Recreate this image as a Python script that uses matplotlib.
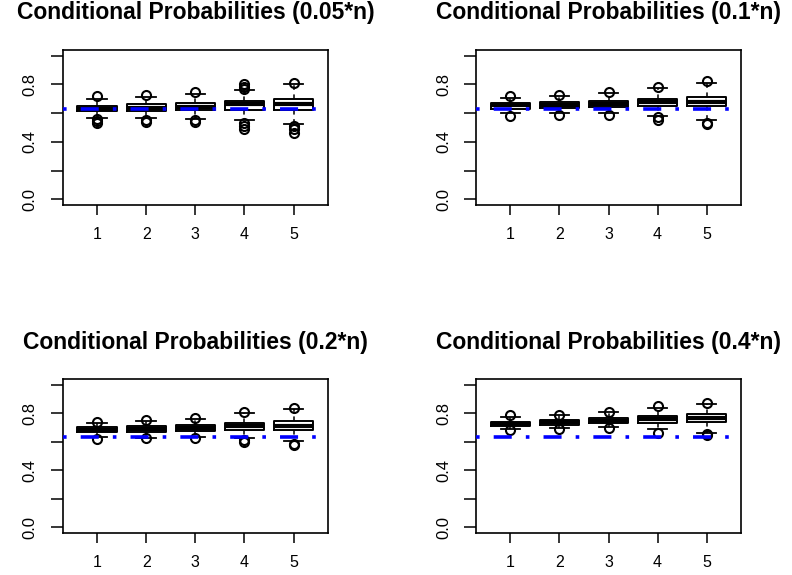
import matplotlib
matplotlib.use("Agg")
import matplotlib.pyplot as plt

plt.rcParams['font.family'] = ['Liberation Sans', 'DejaVu Sans']

# panel titles
titles = ["Conditional Probabilities (0.05*n)", "Conditional Probabilities (0.1*n)",
          "Conditional Probabilities (0.2*n)", "Conditional Probabilities (0.4*n)"]
groups = [1, 2, 3, 4, 5]

# box statistics, one row per panel
q1 = [[0.613, 0.613, 0.620, 0.623, 0.625],
      [0.632, 0.638, 0.644, 0.648, 0.648],
      [0.667, 0.670, 0.676, 0.683, 0.683],
      [0.713, 0.720, 0.730, 0.734, 0.737]]
med = [[0.632, 0.638, 0.645, 0.662, 0.665],
       [0.655, 0.660, 0.665, 0.680, 0.679],
       [0.682, 0.690, 0.698, 0.708, 0.713],
       [0.725, 0.735, 0.748, 0.757, 0.767]]
q3 = [[0.653, 0.665, 0.672, 0.683, 0.697],
      [0.672, 0.680, 0.688, 0.700, 0.714],
      [0.700, 0.707, 0.716, 0.732, 0.744],
      [0.741, 0.753, 0.767, 0.781, 0.795]]
whislo = [[0.567, 0.563, 0.556, 0.550, 0.527],
          [0.598, 0.602, 0.603, 0.583, 0.555],
          [0.632, 0.628, 0.632, 0.625, 0.607],
          [0.690, 0.697, 0.700, 0.692, 0.664]]
whishi = [[0.702, 0.712, 0.730, 0.762, 0.800],
          [0.707, 0.716, 0.737, 0.775, 0.812],
          [0.730, 0.748, 0.762, 0.800, 0.830],
          [0.777, 0.785, 0.808, 0.835, 0.862]]
fliers = [[[0.718, 0.558, 0.545, 0.532], [0.725, 0.555, 0.537], [0.745, 0.550, 0.540],
           [0.805, 0.780, 0.770, 0.530, 0.510, 0.490], [0.807, 0.508, 0.490, 0.463]],
          [[0.720, 0.582], [0.728, 0.588], [0.745, 0.585], [0.782, 0.575, 0.553],
           [0.822, 0.532, 0.525]],
          [[0.737, 0.622], [0.755, 0.625], [0.770, 0.625], [0.806, 0.610, 0.595],
           [0.836, 0.585, 0.575]],
          [[0.785, 0.680], [0.790, 0.690], [0.812, 0.697], [0.848, 0.664],
           [0.875, 0.655, 0.650]]]
ref_level = 0.632

fig = plt.figure(figsize=(7.92, 5.75), dpi=100)

# frame positions in pixels: left, right, top, bottom
W, H = 792.0, 575.0
frames = [(62.7, 328.0, 50.0, 205.0), (476.0, 741.0, 50.0, 205.0),
          (62.7, 328.0, 379.0, 533.0), (476.0, 741.0, 379.0, 533.0)]
title_y = [13, 13, 342, 342]

for k in range(4):
    l, r, t, b = frames[k]
    ax = fig.add_axes([l / W, 1 - b / H, (r - l) / W, (b - t) / H])

    stats = []
    for i in range(5):
        stats.append(dict(q1=q1[k][i], med=med[k][i], q3=q3[k][i],
                          whislo=whislo[k][i], whishi=whishi[k][i],
                          fliers=fliers[k][i]))
    ax.bxp(stats, positions=groups, widths=0.8, showfliers=True,
           boxprops=dict(color='black', linewidth=1.4),
           medianprops=dict(color='black', linewidth=3.0, solid_capstyle='butt'),
           whiskerprops=dict(color='black', linewidth=1.1, linestyle=(0, (3, 3))),
           capprops=dict(color='black', linewidth=1.3),
           capwidths=0.4,
           flierprops=dict(marker='o', markersize=6.5, markerfacecolor='none',
                           markeredgecolor='black', markeredgewidth=1.5))

    ax.axhline(ref_level, color='#0000ff', linewidth=2.6,
               linestyle=(0, (1.0, 3.9, 5.0, 3.9)), zorder=5)

    ax.set_xlim(0.3, 5.7)
    ax.set_ylim(-0.04, 1.04)
    ax.set_xticks(groups)
    ax.set_xticklabels([str(g) for g in groups], fontsize=11.5)
    ax.set_yticks([0.0, 0.2, 0.4, 0.6, 0.8, 1.0])
    ax.set_yticklabels(['0.0', '', '0.4', '', '0.8', ''], fontsize=12,
                       rotation=90, va='center')
    ax.tick_params(axis='y', length=9, width=1.1, pad=9)
    ax.tick_params(axis='x', length=7, width=1.1, pad=9)
    for s in ax.spines.values():
        s.set_linewidth(1.2)

    fig.text((l + r) / 2 / W, 1 - title_y[k] / H, titles[k],
             ha='center', va='center', fontsize=16.5, fontweight='bold')

fig.savefig("out.png", dpi=100)
